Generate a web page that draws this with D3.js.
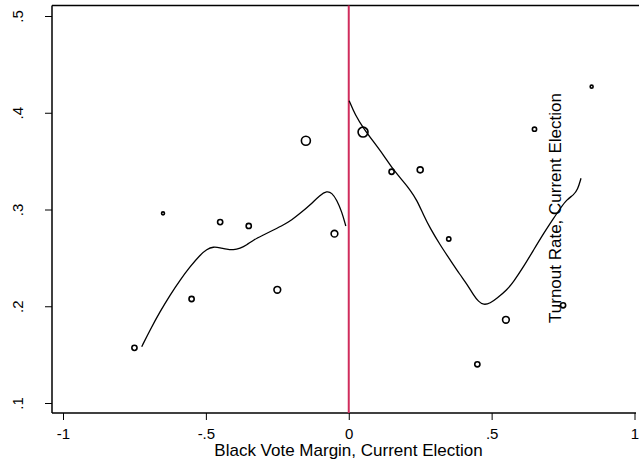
<!DOCTYPE html>
<html>
<head>
<meta charset="utf-8">
<script src="https://cdn.jsdelivr.net/npm/d3@7"></script>
<style>
  body { margin: 0; background: #fff; }
  text { font-family: "Liberation Sans", Arial, sans-serif; }
</style>
</head>
<body>
<div id="chart"></div>
<script>
// binned means: margin bin, turnout rate, weight (cell count)
const binX = [-0.75, -0.65, -0.55, -0.45, -0.35, -0.25, -0.15, -0.05, 0.05, 0.15, 0.25, 0.35, 0.45, 0.55, 0.65, 0.75, 0.85]
const binY = [0.157, 0.296, 0.2075, 0.287, 0.283, 0.217, 0.371, 0.275, 0.380, 0.339, 0.341, 0.2695, 0.140, 0.186, 0.383, 0.201, 0.427]
const binW = [3, 1, 3, 3, 3, 5, 9, 5, 11, 3, 4, 2, 3, 5, 2, 3, 1]

// local fit, left of cutoff
const leftX = [-0.7245, -0.6954, -0.6604, -0.6254, -0.5903, -0.5553, -0.5203, -0.4970, -0.4737, -0.4503, -0.4270, -0.4037, -0.3803, -0.3570, -0.3337, -0.2987, -0.2637, -0.2287, -0.1995, -0.1702, -0.1352, -0.1001, -0.0768, -0.0593, -0.0418, -0.0243, -0.0103]
const leftY = [0.1582, 0.1755, 0.1944, 0.2116, 0.2271, 0.2409, 0.2530, 0.2589, 0.2616, 0.2605, 0.2589, 0.2581, 0.2599, 0.2633, 0.2685, 0.2736, 0.2788, 0.2840, 0.2891, 0.2960, 0.3047, 0.3150, 0.3191, 0.3174, 0.3098, 0.2977, 0.2829]

// local fit, right of cutoff
const rightX = [0.0014, 0.0224, 0.0516, 0.0866, 0.1216, 0.1566, 0.1916, 0.2150, 0.2383, 0.2616, 0.2850, 0.3200, 0.3550, 0.3900, 0.4134, 0.4367, 0.4543, 0.4718, 0.4951, 0.5185, 0.5535, 0.5768, 0.6118, 0.6468, 0.6819, 0.7169, 0.7402, 0.7636, 0.7869, 0.8009, 0.8128]
const rightY = [0.4125, 0.3977, 0.3839, 0.3701, 0.3563, 0.3408, 0.3287, 0.3202, 0.3098, 0.2943, 0.2805, 0.2633, 0.2478, 0.2323, 0.2230, 0.2116, 0.2047, 0.2013, 0.2030, 0.2082, 0.2168, 0.2254, 0.2409, 0.2581, 0.2753, 0.2909, 0.3012, 0.3105, 0.3150, 0.3202, 0.3323]

const xTicks = [-1, -0.5, 0, 0.5, 1]
const yTicks = [0.1, 0.2, 0.3, 0.4, 0.5]
// stata style: drop leading zero
const fmt = v => String(v).replace('0.', '.')

const width = 639, height = 464
const plot = { left: 52, top: 5.5, right: 639, bottom: 413 }

const svg = d3.select('#chart').append('svg')
  .attr('width', width)
  .attr('height', height)

const x = d3.scaleLinear().domain([-1, 1]).range([63, 634.5])
const y = d3.scaleLinear().domain([0.1, 0.5]).range([403, 16])
const r = d3.scaleSqrt().domain([0, 1]).range([0, 1.5])

// frame: top line + axes
svg.append('line')
  .attr('x1', plot.left).attr('x2', plot.right)
  .attr('y1', plot.top).attr('y2', plot.top)
  .attr('stroke', '#000').attr('stroke-width', 1.5)

const xAxis = d3.axisBottom(x).tickValues(xTicks).tickFormat(fmt).tickSize(7).tickSizeOuter(0)
const gx = svg.append('g')
  .attr('transform', 'translate(0,' + plot.bottom + ')')
  .call(xAxis)
gx.select('.domain').remove()
gx.append('line')
  .attr('x1', plot.left).attr('x2', 636)
  .attr('stroke', '#000').attr('stroke-width', 1.5)
gx.selectAll('.tick line').attr('stroke', '#000')
gx.selectAll('.tick text')
  .attr('fill', '#000')
  .attr('font-size', 15)
  .attr('dy', 0).attr('y', 25.5)

const yAxis = d3.axisLeft(y).tickValues(yTicks).tickFormat(fmt).tickSize(7).tickSizeOuter(0)
const gy = svg.append('g')
  .attr('transform', 'translate(' + plot.left + ',0)')
  .call(yAxis)
gy.select('.domain').remove()
gy.append('line')
  .attr('y1', plot.top).attr('y2', plot.bottom)
  .attr('stroke', '#000').attr('stroke-width', 1.5)
gy.selectAll('.tick line').attr('stroke', '#000')
gy.selectAll('.tick text')
  .attr('fill', '#000')
  .attr('font-size', 15)
  .attr('x', null).attr('dy', 0)
  .attr('text-anchor', 'middle')
  .attr('transform', 'translate(-29.5,0) rotate(-90)')

// cutoff line
svg.append('line')
  .attr('x1', x(0)).attr('x2', x(0))
  .attr('y1', plot.top).attr('y2', plot.bottom)
  .attr('stroke', '#d02c5c').attr('stroke-width', 2)

// binned points
const pts = binX.map((v, i) => ({ x: v, y: binY[i], w: binW[i] }))
svg.selectAll('.pt')
  .data(pts)
  .enter()
  .append('circle')
  .attr('class', 'pt')
  .attr('cx', d => x(d.x))
  .attr('cy', d => y(d.y))
  .attr('r', d => r(d.w))
  .attr('fill', 'none')
  .attr('stroke', '#000')
  .attr('stroke-width', 1.6)

// fitted curves
const line = d3.line().x(d => x(d[0])).y(d => y(d[1])).curve(d3.curveBasis)
svg.append('path')
  .datum(leftX.map((v, i) => [v, leftY[i]]))
  .attr('d', line)
  .attr('fill', 'none').attr('stroke', '#000').attr('stroke-width', 1.3)
svg.append('path')
  .datum(rightX.map((v, i) => [v, rightY[i]]))
  .attr('d', line)
  .attr('fill', 'none').attr('stroke', '#000').attr('stroke-width', 1.3)

// axis titles
svg.append('text')
  .attr('x', 348.5).attr('y', 456)
  .attr('text-anchor', 'middle')
  .attr('font-size', 17)
  .text('Black Vote Margin, Current Election')

svg.append('text')
  .attr('transform', 'translate(561,208) rotate(-90)')
  .attr('text-anchor', 'middle')
  .attr('font-size', 17)
  .text('Turnout Rate, Current Election')
</script>
</body>
</html>
